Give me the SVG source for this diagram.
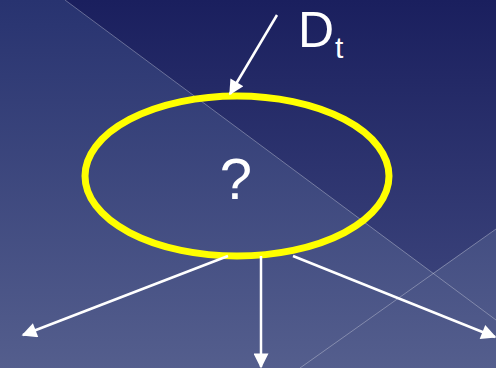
<svg xmlns="http://www.w3.org/2000/svg" width="496" height="368" viewBox="0 0 496 368">
<defs>
<linearGradient id="bgL" x1="0" y1="0" x2="0" y2="368" gradientUnits="userSpaceOnUse">
<stop offset="0" stop-color="#283370"/>
<stop offset="1" stop-color="#545e8d"/>
</linearGradient>
<linearGradient id="bgD" x1="0" y1="0" x2="0" y2="368" gradientUnits="userSpaceOnUse">
<stop offset="0" stop-color="#1a1f5e"/>
<stop offset="1" stop-color="#434c82"/>
</linearGradient>
<marker id="ah" viewBox="0 0 10 10" refX="9" refY="5" markerWidth="7" markerHeight="6" markerUnits="strokeWidth" orient="auto">
<path d="M0,0 L10,5 L0,10 z" fill="#ffffff"/>
</marker>
<style>
.edge{stroke:#ffffff;stroke-width:2.5;fill:none;marker-end:url(#ah)}
.deco{stroke:#ffffff;stroke-opacity:0.3;stroke-width:1;fill:none}
.lbl{fill:#ffffff;font-family:"Liberation Sans","DejaVu Sans",sans-serif}
</style>
</defs>
<rect width="496" height="368" fill="url(#bgL)"/>
<polygon points="65,0 496,0 496,229 433,273" fill="url(#bgD)"/>
<line class="deco" x1="65" y1="0" x2="496" y2="320"/>
<line class="deco" x1="300" y1="368" x2="496" y2="229"/>
<g id="node-q">
<ellipse cx="237" cy="176" rx="152" ry="80" fill="none" stroke="#ffff00" stroke-width="7"/>
<text class="lbl" x="236" y="199" font-size="58" text-anchor="middle">?</text>
</g>
<g id="label-dt">
<text class="lbl" x="298" y="47" font-size="50">D</text>
<text class="lbl" x="335" y="58" font-size="30">t</text>
</g>
<g id="connectors">
<line class="edge" x1="277" y1="15" x2="230" y2="94"/>
<line class="edge" x1="228" y1="256" x2="23" y2="335"/>
<line class="edge" x1="261" y1="256" x2="261" y2="367"/>
<line class="edge" x1="293" y1="256" x2="495" y2="337"/>
</g>
</svg>
